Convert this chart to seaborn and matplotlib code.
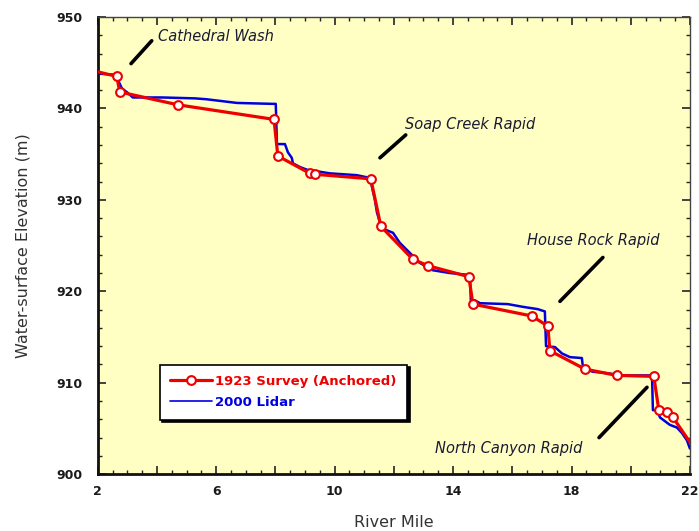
import matplotlib
matplotlib.use("Agg")
import matplotlib.pyplot as plt
from matplotlib.ticker import MultipleLocator
from matplotlib.lines import Line2D
import seaborn as sns
import pandas as pd

# 1923 survey profile (anchored); interior points are surveyed stations
survey_mile = [2.00, 2.64, 2.74, 4.70, 7.95, 8.08, 9.16, 9.33, 11.22, 11.56,
               12.64, 13.15, 14.53, 14.67, 16.66, 17.20, 17.27, 18.45, 19.53,
               20.78, 20.95, 21.22, 21.43, 22.00]
survey_elev = [944.0, 943.5, 941.8, 940.4, 938.8, 934.8, 932.9, 932.8, 932.3,
               927.1, 923.5, 922.8, 921.6, 918.6, 917.3, 916.2, 913.5, 911.5,
               910.8, 910.7, 907.0, 906.8, 906.2, 903.5]

# 2000 lidar water-surface profile
lidar_mile = [2.00, 2.51, 2.68, 2.81, 3.01, 3.18, 4.16, 5.28, 5.68, 6.70, 7.91,
              8.01, 8.05, 8.32, 8.42, 8.55, 8.59, 8.82, 9.06, 9.84, 10.75, 11.19,
              11.36, 11.43, 11.59, 11.97, 12.20, 12.54, 12.88, 13.32, 13.89,
              14.50, 14.57, 14.60, 14.74, 14.91, 15.85, 16.36, 16.86, 17.10,
              17.14, 17.44, 17.68, 17.95, 18.35, 18.39, 18.72, 19.06, 19.74,
              20.41, 20.72, 20.75, 20.89, 20.99, 21.32, 21.56, 21.73, 21.90, 22.00]
lidar_elev = [943.8, 943.7, 943.1, 942.2, 941.7, 941.2, 941.2, 941.1, 941.0,
              940.6, 940.5, 940.5, 936.1, 936.1, 935.2, 934.6, 934.0, 933.6,
              933.3, 932.9, 932.7, 932.4, 930.0, 928.6, 926.9, 926.4, 925.3,
              924.2, 923.1, 922.3, 922.0, 921.8, 921.7, 919.0, 919.0, 918.7,
              918.6, 918.3, 918.05, 917.8, 914.0, 913.9, 913.2, 912.8, 912.7,
              911.6, 911.2, 911.1, 910.8, 910.8, 910.8, 907.0, 907.0, 906.2,
              905.4, 905.1, 904.5, 903.7, 902.8]

# Named features along the reach: label, text anchor, pointer start/end
features = ["Cathedral Wash", "Soap Creek Rapid", "House Rock Rapid", "North Canyon Rapid"]
feature_text_xy = [(4.03, 947.9), (12.37, 938.2), (16.49, 925.6), (13.39, 902.8)]
feature_ptr = [((3.12, 944.9), (3.82, 947.4)),
               ((11.53, 934.6), (12.40, 937.1)),
               ((17.61, 918.9), (19.06, 923.7)),
               ((18.93, 904.0), (20.55, 909.5))]

survey = pd.DataFrame({"mile": survey_mile, "elev": survey_elev})
lidar = pd.DataFrame({"mile": lidar_mile, "elev": lidar_elev})

sns.set_theme(style="ticks")
plt.rcParams["font.family"] = ["DejaVu Sans"]

fig = plt.figure(figsize=(6.99, 5.31), dpi=100)
ax = fig.add_axes([0.140, 0.107, 0.847, 0.861])
ax.set_facecolor("#FFFFC4")

red = "#EE0000"
blue = "#0000E0"

sns.lineplot(data=lidar, x="mile", y="elev", sort=False, estimator=None,
             color=blue, linewidth=1.8, ax=ax, zorder=2)
sns.lineplot(data=survey, x="mile", y="elev", sort=False, estimator=None,
             color=red, linewidth=2.3, marker="o", markersize=6.3,
             markerfacecolor="white", markeredgecolor=red, markeredgewidth=1.5,
             markevery=list(range(1, len(survey_mile) - 1)), ax=ax, zorder=3)

ax.set_xlim(2, 22)
ax.set_ylim(900, 950)
ax.xaxis.set_major_locator(MultipleLocator(2))
ax.xaxis.set_minor_locator(MultipleLocator(0.5))
ax.yaxis.set_major_locator(MultipleLocator(10))
ax.yaxis.set_minor_locator(MultipleLocator(2))
ax.set_xticks([2, 4, 6, 8, 10, 12, 14, 16, 18, 20, 22])
ax.set_xticklabels(["2", "", "6", "", "10", "", "14", "", "18", "", "22"])

ax.tick_params(which="both", direction="in", top=True, right=True,
               colors="#222222", labelcolor="#1a1a1a")
ax.tick_params(which="major", length=6, width=1.2, labelsize=9)
ax.tick_params(axis="y", which="major", pad=11)
ax.tick_params(axis="x", which="major", pad=8)
ax.tick_params(which="minor", length=3, width=1.0)
for lab in ax.get_xticklabels() + ax.get_yticklabels():
    lab.set_fontweight("bold")

for side in ("left", "bottom"):
    ax.spines[side].set_linewidth(2.0)
    ax.spines[side].set_color("#111111")
for side in ("top", "right"):
    ax.spines[side].set_linewidth(1.0)
    ax.spines[side].set_color("#444444")

ax.set_xlabel("River Mile", fontsize=11.5, color="#333333", labelpad=12)
ax.set_ylabel("Water-surface Elevation (m)", fontsize=11.5, color="#333333", labelpad=19)

for name, (tx, ty), (p0, p1) in zip(features, feature_text_xy, feature_ptr):
    ax.text(tx, ty, name, fontsize=10.5, fontstyle="italic", color="#1a1a33",
            ha="left", va="center")
    ax.plot([p0[0], p1[0]], [p0[1], p1[1]], color="black", linewidth=2.6,
            solid_capstyle="round")

handles = [
    Line2D([], [], color=red, linewidth=2.3, marker="o", markersize=6.3,
           markerfacecolor="white", markeredgecolor=red, markeredgewidth=1.5),
    Line2D([], [], color=blue, linewidth=1.2),
]
leg = ax.legend(handles, ["1923 Survey (Anchored)", "2000 Lidar"],
                loc="lower left", bbox_to_anchor=(0.093, 0.105),
                frameon=True, fancybox=False,
                shadow={"color": "black", "alpha": 1.0},
                framealpha=1, edgecolor="black", facecolor="white",
                handlelength=3.2, handletextpad=0.2, borderpad=0.8,
                labelspacing=0.6, prop={"weight": "bold", "size": 9.5})
leg.get_frame().set_linewidth(1.2)
for txt, col in zip(leg.get_texts(), [red, blue]):
    txt.set_color(col)

fig.savefig("out.png", dpi=100, facecolor="white")
